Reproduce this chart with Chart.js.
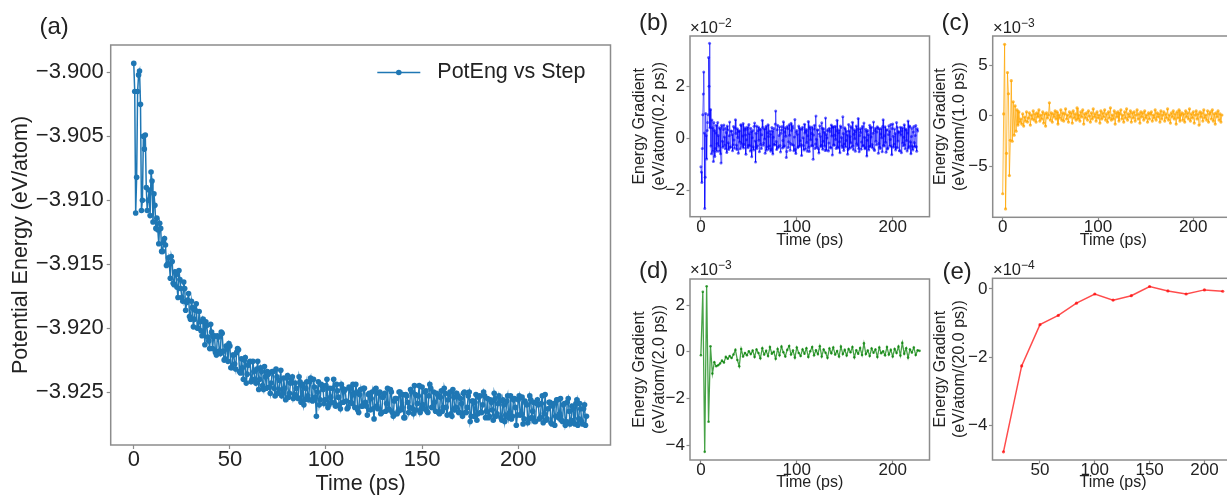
<!DOCTYPE html>
<html>
<head>
<meta charset="utf-8">
<script src="https://cdn.jsdelivr.net/npm/chart.js@4.4.1/dist/chart.umd.min.js"></script>
<style>
  html, body { margin: 0; padding: 0; background: #fff; }
  body { position: relative; width: 1227px; height: 495px; overflow: hidden;
         font-family: 'Liberation Sans', Arial, sans-serif; color: #222; }
  canvas { position: absolute; }
  .tag { position: absolute; font-size: 24px; line-height: 24px; white-space: nowrap; }
  .mult { position: absolute; font-size: 16.5px; line-height: 16.5px; white-space: nowrap; }
  .mult span { position: relative; top: -0.5em; font-size: 12px; }
</style>
</head>
<body>
<canvas id="chartA" width="640" height="497" style="left:0;top:0"></canvas>
<canvas id="chartB" width="320" height="250" style="left:620px;top:0"></canvas>
<canvas id="chartC" width="330" height="250" style="left:920px;top:0"></canvas>
<canvas id="chartD" width="320" height="247" style="left:620px;top:245px"></canvas>
<canvas id="chartE" width="330" height="247" style="left:920px;top:245px"></canvas>

<div class="tag" style="left:39.5px;top:13.5px">(a)</div>
<div class="tag" style="left:639px;top:10px">(b)</div>
<div class="tag" style="left:941.5px;top:10px">(c)</div>
<div class="tag" style="left:639px;top:257.5px">(d)</div>
<div class="tag" style="left:942.5px;top:259px">(e)</div>

<div class="mult" style="left:690px;top:19px">×10<span>−2</span></div>
<div class="mult" style="left:993px;top:19px">×10<span>−3</span></div>
<div class="mult" style="left:690px;top:261px">×10<span>−3</span></div>
<div class="mult" style="left:993px;top:261px">×10<span>−4</span></div>

<script>
// potential energy per atom, one sample every 0.5 ps
const STEP_A = 0.5;
const potEng = [
  -3.8993, -3.9015, -3.9110, -3.9082, -3.9015, -3.9002, -3.8999, -3.9025, -3.9108, -3.9100,
  -3.9050, -3.9060, -3.9049, -3.9090, -3.9108, -3.9100, -3.9092, -3.9112, -3.9078, -3.9085,
  -3.9117, -3.9095, -3.9104, -3.9122,
  -3.9114, -3.9123, -3.9134, -3.9118, -3.9122, -3.9140, -3.9140, -3.9133, -3.9130, -3.9135,
  -3.9151, -3.9150, -3.9145, -3.9150, -3.9161, -3.9144, -3.9148, -3.9165, -3.9166, -3.9156,
  -3.9158, -3.9168, -3.9176, -3.9155, -3.9162, -3.9169, -3.9176, -3.9179, -3.9164, -3.9169,
  -3.9186, -3.9180, -3.9178, -3.9173, -3.9191, -3.9193, -3.9179, -3.9184, -3.9199, -3.9193,
  -3.9186, -3.9181, -3.9200, -3.9200, -3.9187, -3.9195, -3.9202, -3.9206, -3.9193, -3.9195,
  -3.9213, -3.9195, -3.9198, -3.9207, -3.9210, -3.9216, -3.9197, -3.9203, -3.9216, -3.9207,
  -3.9206, -3.9219, -3.9221, -3.9206, -3.9207, -3.9218, -3.9220, -3.9203, -3.9204, -3.9218,
  -3.9225, -3.9224, -3.9214, -3.9216, -3.9226, -3.9212, -3.9214, -3.9231, -3.9231, -3.9221,
  -3.9221, -3.9228, -3.9232, -3.9219, -3.9216, -3.9217, -3.9234, -3.9235, -3.9224, -3.9231,
  -3.9240, -3.9225, -3.9223, -3.9243, -3.9236, -3.9229, -3.9227, -3.9226, -3.9242, -3.9240,
  -3.9226, -3.9234, -3.9240, -3.9243, -3.9232, -3.9226, -3.9248, -3.9240, -3.9231, -3.9234,
  -3.9245, -3.9248, -3.9230, -3.9238, -3.9247, -3.9234, -3.9236, -3.9246, -3.9251, -3.9243,
  -3.9234, -3.9234, -3.9247, -3.9253, -3.9232, -3.9238, -3.9251, -3.9248, -3.9241, -3.9233,
  -3.9253, -3.9251, -3.9239, -3.9247, -3.9256, -3.9239, -3.9237, -3.9254, -3.9251, -3.9243,
  -3.9240, -3.9238, -3.9255, -3.9252, -3.9243, -3.9247, -3.9254, -3.9255, -3.9238, -3.9242,
  -3.9258, -3.9245, -3.9244, -3.9260, -3.9256, -3.9247, -3.9242, -3.9253, -3.9256, -3.9242,
  -3.9239, -3.9256, -3.9257, -3.9240, -3.9246, -3.9254, -3.9269, -3.9250, -3.9242, -3.9260,
  -3.9256, -3.9244, -3.9245, -3.9248, -3.9259, -3.9256, -3.9245, -3.9240, -3.9262, -3.9260,
  -3.9247, -3.9254, -3.9258, -3.9247, -3.9240, -3.9259, -3.9261, -3.9244, -3.9249, -3.9254,
  -3.9260, -3.9263, -3.9244, -3.9247, -3.9258, -3.9249, -3.9248, -3.9257, -3.9263, -3.9262,
  -3.9246, -3.9247, -3.9258, -3.9259, -3.9244, -3.9252, -3.9262, -3.9244, -3.9250, -3.9264,
  -3.9266, -3.9252, -3.9248, -3.9261, -3.9261, -3.9247, -3.9247, -3.9258, -3.9261, -3.9268,
  -3.9252, -3.9251, -3.9264, -3.9255, -3.9250, -3.9263, -3.9271, -3.9248, -3.9247, -3.9261,
  -3.9263, -3.9251, -3.9250, -3.9267, -3.9266, -3.9254, -3.9253, -3.9251, -3.9265, -3.9259,
  -3.9247, -3.9263, -3.9264, -3.9248, -3.9250, -3.9266, -3.9269, -3.9257, -3.9255, -3.9255,
  -3.9267, -3.9265, -3.9250, -3.9250, -3.9264, -3.9262, -3.9252, -3.9270, -3.9270, -3.9252,
  -3.9253, -3.9258, -3.9266, -3.9262, -3.9248, -3.9250, -3.9263, -3.9267, -3.9245, -3.9252,
  -3.9264, -3.9259, -3.9253, -3.9245, -3.9266, -3.9263, -3.9246, -3.9260, -3.9263, -3.9250,
  -3.9249, -3.9265, -3.9266, -3.9253, -3.9244, -3.9247, -3.9262, -3.9262, -3.9250, -3.9258,
  -3.9265, -3.9251, -3.9252, -3.9266, -3.9267, -3.9254, -3.9249, -3.9265, -3.9262, -3.9247,
  -3.9251, -3.9262, -3.9268, -3.9256, -3.9252, -3.9250, -3.9267, -3.9269, -3.9248, -3.9254,
  -3.9264, -3.9262, -3.9251, -3.9253, -3.9266, -3.9266, -3.9255, -3.9259, -3.9269, -3.9251,
  -3.9250, -3.9266, -3.9266, -3.9262, -3.9253, -3.9250, -3.9273, -3.9269, -3.9257, -3.9257,
  -3.9269, -3.9258, -3.9252, -3.9272, -3.9267, -3.9254, -3.9253, -3.9266, -3.9266, -3.9260,
  -3.9250, -3.9253, -3.9270, -3.9265, -3.9255, -3.9270, -3.9269, -3.9256, -3.9258, -3.9264,
  -3.9272, -3.9251, -3.9255, -3.9269, -3.9267, -3.9259, -3.9253, -3.9257, -3.9270, -3.9272,
  -3.9256, -3.9260, -3.9273, -3.9268, -3.9257, -3.9253, -3.9270, -3.9266, -3.9253, -3.9271,
  -3.9269, -3.9256, -3.9255, -3.9262, -3.9276, -3.9268, -3.9256, -3.9253, -3.9268, -3.9267,
  -3.9254, -3.9275, -3.9271, -3.9257, -3.9259, -3.9260, -3.9274, -3.9271, -3.9253, -3.9256,
  -3.9270, -3.9265, -3.9258, -3.9273, -3.9273, -3.9259, -3.9256, -3.9260, -3.9271, -3.9270,
  -3.9259, -3.9253, -3.9274, -3.9267, -3.9252, -3.9272, -3.9271, -3.9263, -3.9258, -3.9258,
  -3.9274, -3.9275, -3.9261, -3.9259, -3.9276, -3.9269, -3.9256, -3.9256, -3.9270, -3.9267,
  -3.9255, -3.9272, -3.9273, -3.9260, -3.9259, -3.9276, -3.9273, -3.9258, -3.9255, -3.9265,
  -3.9275, -3.9272, -3.9261, -3.9263, -3.9274, -3.9275, -3.9259, -3.9256, -3.9276, -3.9271,
  -3.9259, -3.9263, -3.9273, -3.9275, -3.9263, -3.9260, -3.9276, -3.9269
];

// energy gradient over 0.2 ps windows, in 1e-2 eV/atom, one value every 0.5 ps
const STEP_B = 0.5;
const gradB = [
  -1.1, -1.3, -1.7, -0.4, 0.9, 1.7, 2.55, 0.2, -2.7, -1.5,
  0.95, 0.1, -0.8, 0.3, 0.6, 0.9, 3.1, 2.0, 3.65, 0.4,
  1.1, -0.3, -0.6, 0.7, 0.4, -0.5, -0.9, 0.6, 0.3, -0.7,
  -0.4, 0.2, 0.5, -0.5, -0.2, 0.6, 0.1, -0.3, -0.5, 0.4,
  0.35, -0.6, -0.95, 0.5,
  0.42, -0.12, -0.35, 0.33, 0.51, 0.05, -0.28, -0.41, 0.38, 0.22,
  -0.55, 0.47, 0.31, -0.18, -0.44, 0.09, 0.62, -0.36, -0.33, 0.28,
  0.27, 0.14, -0.48, -0.25, 0.45, -0.07, -0.39, 0.39, 0.71, 0.18,
  -0.26, -0.44, 0.36, 0.03, -0.58, 0.26, 0.29, -0.15, -0.41, 0.52,
  0.49, -0.21, -0.32, 0.08, 0.56, -0.38, -0.24, 0.31, 0.40, 0.12,
  -0.62, -0.06, 0.34, 0.43, -0.37, -0.27, 0.53, 0.17, -0.29, -0.49,
  0.38, 0.25, -0.71, 0.02, 0.30, -0.33, -0.45, 0.46, 0.58, -0.11,
  -0.92, 0.19, 0.47, -0.40, -0.30, 0.29, 0.43, -0.08, -0.52, 0.35,
  0.33, -0.24, -0.40, 0.13, 0.69, 0.41, -0.27, -0.19, 0.35, -0.03,
  -0.58, 0.37, 0.46, -0.46, -0.34, 0.21, 0.52, 0.06, -0.43, -0.30,
  0.28, 0.16, -0.50, -0.42, 0.41, 0.27, -0.61, 0.04, 0.37, -0.23,
  -0.26, 0.55, 1.05, -0.13, -0.44, 0.32, 0.50, -0.37, -0.32, 0.10,
  0.44, -0.28, -0.53, 0.19, 0.31, 0.45, -0.38, -0.09, 0.63, -0.34,
  -0.29, 0.24, 0.40, 0.07, -0.74, -0.51, 0.45, 0.36, -0.36, -0.14,
  0.52, 0.11, -0.46, -0.20, 0.57, 0.30, -0.25, 0.48, 0.39, -0.26,
  -0.48, 0.05, 0.72, -0.43, -0.59, 0.23, 0.30, 0.15, -0.37, -0.32,
  0.47, 0.40, -0.31, -0.10, 0.35, -0.24, -0.67, 0.34, 0.42, 0.02,
  -0.28, -0.45, 0.54, 0.20, -0.42, 0.27, 0.33, -0.17, -0.50, 0.09,
  0.64, -0.35, -0.51, 0.44, 0.37, -0.06, -0.29, 0.18, 0.43, -0.29,
  -0.81, 0.12, 0.35, 0.50, -0.40, -0.22, 0.85, -0.04, -0.36, 0.31,
  0.31, -0.41, -0.57, 0.16, 0.48, 0.07, -0.33, -0.27, 0.59, 0.38,
  -0.43, -0.12, 0.36, 0.23, -0.30, -0.47, 0.78, 0.14, -0.46, 0.01,
  0.29, 0.33, -0.49, -0.19, 0.38, 0.26, -0.35, -0.38, 0.51, 0.08,
  -0.65, 0.42, 0.44, -0.25, -0.27, 0.11, 0.46, -0.05, -0.40, 0.29,
  0.69, -0.33, -0.38, 0.21, 0.32, -0.14, -0.56, 0.47, 0.41, 0.03,
  -0.30, -0.36, 0.82, 0.18, -0.47, -0.22, 0.40, 0.35, -0.34, -0.09,
  0.27, 0.12, -0.62, -0.44, 0.53, 0.28, -0.39, 0.06, 0.45, -0.18,
  -0.35, 0.39, 0.61, -0.30, -0.44, 0.15, 0.32, -0.02, -0.50, 0.25,
  0.47, -0.21, -0.28, 0.34, 0.76, -0.40, -0.52, 0.10, 0.36, 0.22,
  -0.43, -0.15, 0.39, 0.46, -0.31, -0.28, 0.58, 0.04, -0.41, -0.37,
  0.34, 0.27, -0.69, -0.08, 0.30, 0.13, -0.45, -0.31, 0.50, 0.41,
  -0.33, 0.05, 0.42, -0.24, -0.37, 0.19, 0.62, -0.43, -0.47, 0.30,
  0.38, -0.12, -0.25, 0.24, 0.44, 0.38, -0.58, -0.20, 0.36, -0.35,
  -0.40, 0.16, 0.37, 0.02, -0.52, 0.45, 0.71, -0.27, -0.30, 0.09,
  0.44, -0.16, -0.54, 0.31, 0.32, -0.42, -0.38, 0.14, 0.48, 0.26,
  -0.30, -0.05, 0.53, -0.30, -0.64, 0.37, 0.55, 0.07, -0.35, -0.23,
  0.35, 0.18, -0.45, -0.36, 0.60, 0.43, -0.37, -0.11, 0.26, 0.21,
  -0.48, -0.48, 0.42, 0.12, -0.56, 0.29, 0.40, -0.19, -0.29, 0.04,
  0.52, -0.26, -0.41, 0.35, 0.31, -0.09, -0.49, 0.20, 0.66, -0.39,
  -0.32, 0.47, 0.44, -0.14, -0.60, 0.06, 0.38, -0.31, -0.45, 0.24,
  0.45, -0.17, -0.34, 0.10, 0.49, -0.32, -0.50, 0.36, 0.28
];

// energy gradient over 1.0 ps windows, in 1e-3 eV/atom
const STEP_C = 1.0;
const gradC = [
  -7.7, 0.2, 7.1, -9.2, -3.7, 4.3, 2.2, -5.9, -2.4, 3.5, -2.5, 1.4, -1.9, 1.0, -1.5, 0.6, -0.9, 0.4, -0.6,
  -0.3, -0.8, 0.2, -1.0, -0.1, -0.5, 0.4, -0.6, -0.2, 0.3,
  -0.9, 0.1, -0.3, 0.5, -0.4, 0.2, -0.6, 0.3, -0.1, 0.6,
  -0.5, 0.1, -0.3, 0.4, -0.7, 0.2, -1.0, 0.3, -0.2, 0.1,
  1.3, -0.4, 0.3, -0.6, 0.2, -0.1, 0.5, -0.3, 0.4, -0.8,
  0.1, -0.2, 0.6, -0.4, 0.3, -0.5, 0.2, 0.7, -0.3, 0.1,
  -0.6, 0.4, -0.1, 0.3, -0.7, 0.5, -0.2, 0.2, -0.4, 0.8,
  -0.3, 0.1, -0.5, 0.4, -0.1, 0.6, -0.8, 0.2, -0.2, 0.3,
  -0.4, 0.5, 0.0, -0.6, 0.3, -0.3, 0.7, -0.1, 0.2, -0.5,
  0.4, -0.2, 0.1, -0.7, 0.5, -0.3, 0.3, -0.1, 0.6, -0.4,
  0.2, -0.6, 0.4, -0.2, 0.8, -0.4, 0.1, -0.3, 0.5, -0.8,
  0.3, -0.1, 0.4, -0.5, 0.2, 0.6, -0.3, 0.1, -0.6, 0.4,
  -0.2, 0.7, -0.4, 0.2, -0.1, 0.5, -0.6, 0.3, -0.2, 0.4,
  -0.5, 0.1, 0.6, -0.3, 0.2, -0.7, 0.4, -0.1, 0.3, -0.4,
  0.5, -0.2, 0.1, -0.6, 0.3, -0.3, 0.2, 0.4, -0.5, 0.1,
  -0.2, 0.6, -0.4, 0.3, -0.1, 0.2, -0.6, 0.5, -0.3, 0.1,
  0.4, -0.5, 0.2, -0.2, 0.7, -0.4, 0.1, -0.7, 0.3, -0.1,
  0.5, -0.3, 0.2, -0.8, 0.4, -0.2, 0.6, -0.5, 0.1, 0.3,
  -0.4, 0.2, -0.6, 0.5, -0.1, 0.3, -0.3, 0.7, -0.5, 0.2,
  -0.2, 0.4, -0.7, 0.1, 0.5, -0.3, 0.2, -0.9, 0.4, -0.1,
  0.3, -0.5, 0.6, -0.2, 0.1, -0.4, 0.5, -0.6, 0.2, 0.4,
  -0.3, 0.6, -0.5, 0.2, -0.8, 0.3, -0.1, 0.5, -0.4, 0.2,
  -0.6, 0.1
];

// energy gradient over 2.0 ps windows, in 1e-3 eV/atom
const STEP_D = 2.0;
const gradD = [
  -0.15, 2.57, -4.29, 2.81, -3.0, 0.24, -0.93, -0.45, -0.62, -0.58, -0.5, -0.38, -0.46,
  -0.22, -0.3, -0.18, -0.27, -0.12, 0.08, -0.35, -0.62, 0.12, -0.2, -0.05, -0.15, 0.02,
  -0.1, 0.05, -0.22, 0.1, -0.05, -0.28, 0.15, -0.12, 0.04, -0.18,
  0.2, -0.08, 0.0, -0.3, 0.12, -0.15, 0.22, -0.02, -0.2, 0.08,
  0.25, -0.12, 0.05, -0.25, 0.18, -0.05, -0.18, 0.1, -0.08, 0.15,
  -0.22, 0.02, 0.2, -0.15, 0.06, -0.1, 0.24, -0.2, 0.1, -0.04,
  -0.26, 0.14, -0.06, 0.18, -0.12, 0.03, -0.2, 0.22, -0.1, 0.08,
  -0.16, 0.12, -0.02, 0.2, -0.24, 0.06, -0.08, 0.16, -0.14, 0.36,
  -0.1, 0.05, -0.18, 0.14, -0.04, 0.1, -0.22, 0.18, -0.06, 0.02,
  -0.15, 0.2, -0.12, 0.08, -0.2, 0.12, -0.05, 0.22, -0.16, 0.38,
  -0.08, 0.15, -0.25, 0.1, -0.03, 0.18, -0.14, 0.06, 0.04
];

// energy gradient over 20.0 ps windows, in 1e-4 eV/atom
const timeE = [16.7, 33.3, 50.0, 66.7, 83.3, 100.0, 116.7, 133.3, 150.0, 166.7, 183.3, 200.0, 216.7];
const gradE = [-4.78, -2.26, -1.05, -0.78, -0.42, -0.15, -0.33, -0.20, 0.07, -0.06, -0.15, -0.03, -0.07];

// tick positions
const ticksAX = [0, 50, 100, 150, 200];
const ticksAY = [-3.925, -3.920, -3.915, -3.910, -3.905, -3.900];
const ticksTime = [0, 100, 200];
const ticksTimeE = [50, 100, 150, 200];
const ticksBY = [-2, 0, 2];
const ticksCY = [-5, 0, 5];
const ticksDY = [-4, -2, 0, 2];
const ticksEY = [-4, -2, 0];

const FONT = "'Liberation Sans', Arial, sans-serif";
const TEXT = '#222';
const FRAME = '#8c8c8c';
const BLUE_A = '#1f77b4';

const minus = v => String(v).replace('-', '\u2212');
const series = (vals, step) => vals.map((v, i) => ({ x: i * step, y: v }));

// grey box around each plot area
const framePlugin = {
  id: 'frame',
  afterDraw(chart) {
    const { ctx, chartArea: a } = chart;
    ctx.save();
    ctx.strokeStyle = FRAME;
    ctx.lineWidth = 1.5;
    ctx.strokeRect(a.left, a.top, a.right - a.left, a.bottom - a.top);
    ctx.restore();
  }
};

// matplotlib-like legend entry: short line with a dot, then the label
const potLegend = {
  id: 'potLegend',
  afterDraw(chart) {
    const { ctx, chartArea: a } = chart;
    const label = chart.data.datasets[0].label;
    const y = a.top + 27.5;
    ctx.save();
    ctx.font = '21.5px ' + FONT;
    const textLeft = a.right - 25 - ctx.measureText(label).width;
    const x1 = textLeft - 60, x2 = textLeft - 17;
    ctx.strokeStyle = BLUE_A;
    ctx.lineWidth = 1.5;
    ctx.beginPath();
    ctx.moveTo(x1, y);
    ctx.lineTo(x2, y);
    ctx.stroke();
    ctx.fillStyle = BLUE_A;
    ctx.beginPath();
    ctx.arc((x1 + x2) / 2, y, 2.8, 0, Math.PI * 2);
    ctx.fill();
    ctx.fillStyle = TEXT;
    ctx.textBaseline = 'middle';
    ctx.fillText(label, textLeft, y);
    ctx.restore();
  }
};

function makePanel(id, p) {
  return new Chart(document.getElementById(id), {
    type: 'line',
    data: {
      datasets: [{
        label: p.label || '',
        data: p.points,
        borderColor: p.color,
        backgroundColor: p.color,
        borderWidth: p.lineWidth,
        pointRadius: p.radius,
        pointBorderWidth: 0,
        pointHoverRadius: 0,
        tension: 0
      }]
    },
    options: {
      responsive: false,
      animation: false,
      events: [],
      layout: { padding: p.padding },
      plugins: { legend: { display: false }, tooltip: { enabled: false } },
      scales: {
        x: {
          type: 'linear',
          min: p.xMin,
          max: p.xMax,
          afterFit: s => { s.height = p.xAxisHeight; },
          afterBuildTicks: s => { s.ticks = p.xTicks.map(v => ({ value: v })); },
          grid: { drawOnChartArea: false, tickLength: p.tickLen, tickColor: FRAME, tickWidth: 1.2 },
          border: { display: false },
          ticks: {
            color: TEXT, padding: 0, maxRotation: 0, autoSkip: false,
            font: { family: FONT, size: p.tickSize, lineHeight: p.xTickLH },
            callback: v => minus(v)
          },
          title: {
            display: true, text: 'Time (ps)', color: TEXT,
            font: { family: FONT, size: p.titleSize, lineHeight: 1.2 },
            padding: { top: 0, bottom: 0 }
          }
        },
        y: {
          min: p.yMin,
          max: p.yMax,
          afterFit: s => { s.width = p.yAxisWidth; },
          afterBuildTicks: s => { s.ticks = p.yTicks.map(v => ({ value: v })); },
          grid: { drawOnChartArea: false, tickLength: p.tickLen, tickColor: FRAME, tickWidth: 1.2 },
          border: { display: false },
          ticks: {
            color: TEXT, padding: p.yTickPad, autoSkip: false,
            font: { family: FONT, size: p.tickSize },
            callback: p.yLabel
          },
          title: {
            display: true, text: p.yTitle, color: TEXT,
            font: { family: FONT, size: p.titleSize, lineHeight: 1.2 },
            padding: { top: p.yTitlePad, bottom: 0 }
          }
        }
      }
    },
    plugins: [framePlugin].concat(p.extra || [])
  });
}

const smallLabel = v => minus(v);

makePanel('chartA', {
  label: 'PotEng vs Step',
  points: series(potEng, STEP_A),
  color: BLUE_A, lineWidth: 1.5, radius: 2.8,
  padding: { left: 0, top: 45, right: 29.5, bottom: 0 },
  xMin: -12, xMax: 248, yMin: -3.92914, yMax: -3.89786,
  xTicks: ticksAX, yTicks: ticksAY,
  xAxisHeight: 52, yAxisWidth: 110.7,
  tickSize: 22, titleSize: 21.5, xTickLH: 1.0, yTickPad: 3, tickLen: 4,
  yTitle: 'Potential Energy (eV/atom)', yTitlePad: 8,
  yLabel: v => minus(v.toFixed(3)),
  extra: [potLegend]
});

makePanel('chartB', {
  points: series(gradB, STEP_B),
  color: 'rgba(0, 0, 255, 0.6)', lineWidth: 1, radius: 1.5,
  padding: { left: 0, top: 36, right: 10.5, bottom: 0 },
  xMin: -11.35, xMax: 238.35, yMin: -3.02, yMax: 3.93,
  xTicks: ticksTime, yTicks: ticksBY,
  xAxisHeight: 33.3, yAxisWidth: 70,
  tickSize: 17, titleSize: 16, xTickLH: 0.8, yTickPad: 1.5, tickLen: 3.5,
  yTitle: ['Energy Gradient', '(eV/atom/(0.2 ps))'], yTitlePad: 10.4,
  yLabel: smallLabel
});

makePanel('chartC', {
  points: series(gradC, STEP_C),
  color: 'rgba(255, 165, 0, 0.75)', lineWidth: 1, radius: 1.6,
  padding: { left: 0, top: 36, right: 16.2, bottom: 0 },
  xMin: -10.5, xMax: 242.5, yMin: -10.03, yMax: 7.92,
  xTicks: ticksTime, yTicks: ticksCY,
  xAxisHeight: 32.7, yAxisWidth: 72.7,
  tickSize: 17, titleSize: 16, xTickLH: 0.8, yTickPad: 1.5, tickLen: 3.5,
  yTitle: ['Energy Gradient', '(eV/atom/(1.0 ps))'], yTitlePad: 10.5,
  yLabel: smallLabel
});

makePanel('chartD', {
  points: series(gradD, STEP_D),
  color: 'rgba(0, 128, 0, 0.72)', lineWidth: 1.3, radius: 1.3,
  padding: { left: 0, top: 34, right: 10.5, bottom: 0 },
  xMin: -11.35, xMax: 238.35, yMin: -4.64, yMax: 3.12,
  xTicks: ticksTime, yTicks: ticksDY,
  xAxisHeight: 32, yAxisWidth: 70,
  tickSize: 17, titleSize: 16, xTickLH: 0.8, yTickPad: 1.5, tickLen: 3.5,
  yTitle: ['Energy Gradient', '(eV/atom/(2.0 ps))'], yTitlePad: 10.4,
  yLabel: smallLabel
});

makePanel('chartE', {
  points: timeE.map((t, i) => ({ x: t, y: gradE[i] })),
  color: 'rgba(255, 0, 0, 0.7)', lineWidth: 1.5, radius: 1.6,
  padding: { left: 0, top: 33.3, right: 16.3, bottom: 0 },
  xMin: 6.7, xMax: 226.7, yMin: -5.02, yMax: 0.31,
  xTicks: ticksTimeE, yTicks: ticksEY,
  xAxisHeight: 32, yAxisWidth: 72.5,
  tickSize: 17, titleSize: 16, xTickLH: 0.8, yTickPad: 1.5, tickLen: 3.5,
  yTitle: ['Energy Gradient', '(eV/atom/(20.0 ps))'], yTitlePad: 10.5,
  yLabel: smallLabel
});
</script>
</body>
</html>
